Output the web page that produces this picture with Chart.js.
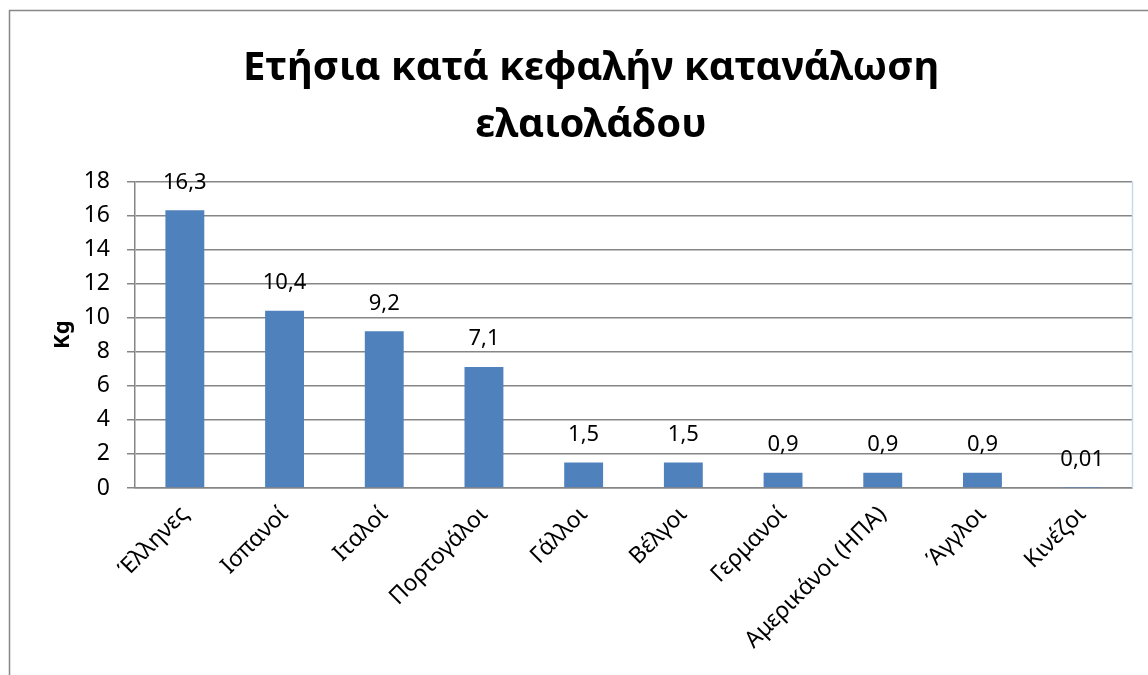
<!DOCTYPE html>
<html><head><meta charset="utf-8">
<script src="https://cdn.jsdelivr.net/npm/chart.js@4.4.0/dist/chart.umd.min.js"></script>
<style>html,body{margin:0;padding:0;background:#fff;overflow:hidden}#wrap{position:relative;width:1148px;height:675px}</style>
</head><body><div id="wrap"><canvas id="c" width="1148" height="675"></canvas></div>
<script>
const categories = ['Έλληνες','Ισπανοί','Ιταλοί','Πορτογάλοι','Γάλλοι','Βέλγοι','Γερμανοί','Αμερικάνοι (ΗΠΑ)','Άγγλοι','Κινέζοι'];
const values = [16.3, 10.4, 9.2, 7.1, 1.5, 1.5, 0.9, 0.9, 0.9, 0.01];
const yTickValues = [0, 2, 4, 6, 8, 10, 12, 14, 16, 18];
const titleLines = ['Ετήσια κατά κεφαλήν κατανάλωση', 'ελαιολάδου'];
const yAxisTitle = 'Kg';

const FONT = "'Noto Sans', 'DejaVu Sans', sans-serif";
const fmt = v => String(v).replace('.', ',');

const decor = {
  id: 'decor',
  beforeDraw(chart) {
    const ctx = chart.ctx;
    ctx.save();
    ctx.fillStyle = '#fff';
    ctx.fillRect(0, 0, chart.width, chart.height);
    ctx.strokeStyle = '#878787';
    ctx.lineWidth = 1.5;
    ctx.beginPath();
    ctx.moveTo(9.5, chart.height + 5);
    ctx.lineTo(9.5, 10.5);
    ctx.lineTo(chart.width + 5, 10.5);
    ctx.stroke();
    ctx.restore();
  },
  afterDraw(chart) {
    const ctx = chart.ctx, a = chart.chartArea;
    ctx.save();
    ctx.strokeStyle = '#c6d9f1';
    ctx.lineWidth = 1.5;
    ctx.beginPath();
    ctx.moveTo(a.right + 0.5, a.top);
    ctx.lineTo(a.right + 0.5, a.bottom);
    ctx.stroke();
    ctx.restore();
  },
  afterDatasetsDraw(chart) {
    const ctx = chart.ctx;
    const meta = chart.getDatasetMeta(0);
    ctx.save();
    ctx.fillStyle = '#000';
    ctx.font = '22px ' + FONT;
    ctx.textAlign = 'center';
    ctx.textBaseline = 'middle';
    meta.data.forEach((bar, i) => {
      ctx.fillText(fmt(values[i]), bar.x, bar.y - 28);
    });
    ctx.restore();
  }
};

new Chart(document.getElementById('c'), {
  type: 'bar',
  data: {
    labels: categories,
    datasets: [{
      data: values,
      backgroundColor: '#4f81bd',
      borderWidth: 0,
      barPercentage: 0.39,
      categoryPercentage: 1.0
    }]
  },
  options: {
    responsive: false,
    animation: false,
    devicePixelRatio: 1,
    layout: { padding: { left: 50, right: 16, top: 0, bottom: 0 } },
    plugins: {
      legend: { display: false },
      tooltip: { enabled: false },
      title: {
        display: true,
        text: titleLines,
        color: '#000',
        font: { family: FONT, size: 40, weight: 'bold', lineHeight: 1.43 },
        padding: { top: 40, bottom: 27 }
      }
    },
    scales: {
      x: {
        grid: { display: false, drawTicks: false },
        border: { display: true, color: '#868686', width: 1.5 },
        ticks: {
          color: '#000',
          font: { family: FONT, size: 23 },
          minRotation: 45, maxRotation: 45,
          autoSkip: false,
          padding: 13
        },
        afterFit(scale) { scale.height = 187; }
      },
      y: {
        min: 0, max: 18,
        afterBuildTicks(scale) { scale.ticks = yTickValues.map(v => ({ value: v })); },
        grid: { color: '#868686', lineWidth: 1.5, tickLength: 8, drawTicks: true },
        border: { display: true, color: '#868686', width: 1.5 },
        ticks: {
          color: '#000',
          font: { family: FONT, size: 23 },
          padding: 17,
          callback: v => fmt(v)
        },
        title: {
          display: true,
          text: yAxisTitle,
          color: '#000',
          font: { family: FONT, size: 22, weight: 'bold', lineHeight: 1.2 },
          padding: 0
        },
        afterFit(scale) { scale.width = 85; }
      }
    }
  },
  plugins: [decor]
});
</script>
</body></html>
